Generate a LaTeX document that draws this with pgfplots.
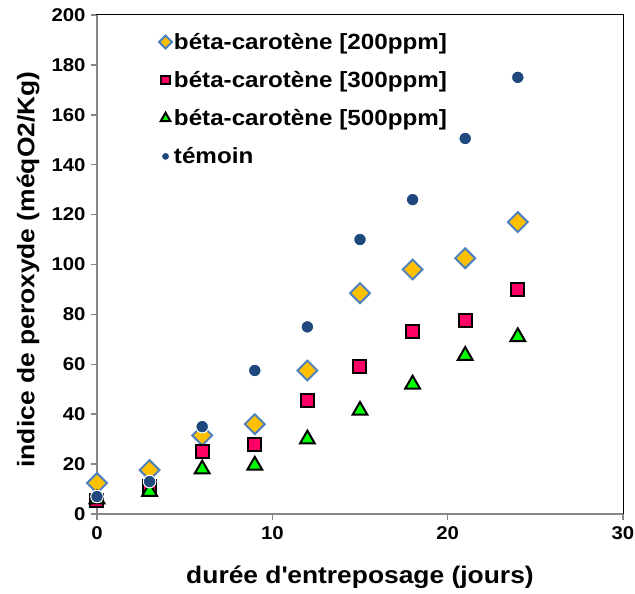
\documentclass[border=0pt]{standalone}
\usepackage{pgfplots}
\pgfplotsset{compat=1.18}
\usepackage{fontspec}
\setmainfont[FakeStretch=1.1]{Liberation Sans}
\definecolor{dgold}{HTML}{FFC000}
\definecolor{dblue}{HTML}{4F81BD}
\definecolor{dpink}{HTML}{FF0066}
\definecolor{dgreen}{HTML}{00FF00}
\definecolor{tnavy}{HTML}{1F497D}
\definecolor{axgray}{HTML}{868686}
\begin{document}
\begin{tikzpicture}[x=1pt,y=1pt]
\path[use as bounding box] (-97,-80) rectangle (538,514);
\begin{axis}[
  at={(0,0)}, anchor=south west,
  scale only axis, width=526pt, height=499pt,
  xmin=0, xmax=30, ymin=0, ymax=200,
  xtick={0,10,20,30}, ytick={0,20,...,200},
  axis line style={draw=black, line width=1pt},
  xtick pos=bottom, ytick pos=left,
  tick style={draw=axgray, line width=1.5pt},
  tick align=outside, major tick length=6pt,
  clip=false,
  ticklabel style={font=\fontsize{18.5}{22}\selectfont\bfseries},
  xticklabel style={yshift=-3pt},
  yticklabel style={xshift=-2pt},
  /pgf/number format/assume math mode=true,
  xlabel={durée d\textquotesingle entreposage (jours)},
  ylabel={indice de peroxyde (méqO2/Kg)},
  label style={font=\fontsize{24}{28}\selectfont\bfseries},
  xlabel style={at={(axis description cs:0.5,-0.126)}, anchor=center},
  ylabel style={at={(axis description cs:-0.131,0.49)}, anchor=center},
  legend style={draw=none, fill=none, at={(0.112,0.972)}, anchor=north west,
    font=\fontsize{22}{25}\selectfont\bfseries, row sep=16.5pt},
  legend image post style={scale=0.65},
  legend cell align=left,
]
\draw[axgray, line width=2.2pt] (rel axis cs:0,1) -- (rel axis cs:0,0) -- (rel axis cs:1,0);
\addplot[only marks, mark=square*, mark size=7pt, mark options={rotate=45, fill=dgold, draw=dblue, line width=2pt}]
  coordinates {(0,12.4) (3,17.6) (6,31.5) (9,36) (12,57.5) (15,88.5) (18,98) (21,102.5) (24,117)};
\addlegendentry{béta-carotène [200ppm]}
\addplot[only marks, mark=square*, mark size=6.5pt, mark options={fill=dpink, draw=black, line width=2pt}]
  coordinates {(0,5.5) (3,11) (6,25) (9,28) (12,45.5) (15,59) (18,73) (21,77.5) (24,90)};
\addlegendentry{béta-carotène [300ppm]}
\addplot[only marks, mark=triangle*, mark size=8.5pt, mark options={fill=dgreen, draw=black, line width=2pt}]
  coordinates {(0,6) (3,9) (6,18) (9,19.5) (12,30) (15,41.5) (18,52) (21,63.5) (24,71)};
\addlegendentry{béta-carotène [500ppm]}
\addplot[only marks, mark=*, mark size=6.3pt, mark options={fill=tnavy, draw=white, line width=1pt}]
  coordinates {(0,7) (3,13) (6,35) (9,57.5) (12,75) (15,110) (18,126) (21,150.5) (24,175)};
\addlegendentry{témoin}
\end{axis}
\end{tikzpicture}
\end{document}
